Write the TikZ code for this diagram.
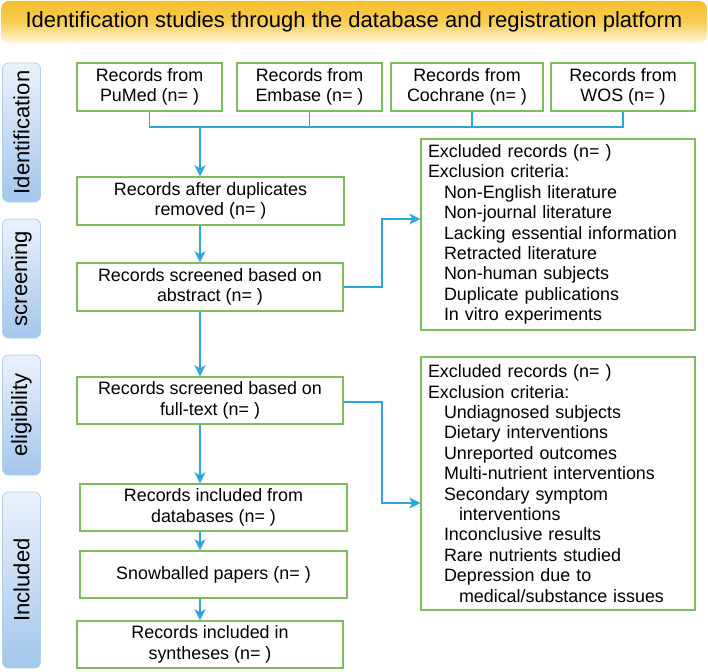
\documentclass[tikz,border=0pt]{standalone}
\usepackage{fontspec}
\setmainfont{Liberation Sans}
\usetikzlibrary{arrows.meta}
\definecolor{boxgreen}{HTML}{7BBE5A}
\definecolor{linkblue}{HTML}{2BA6DE}
\definecolor{sideL}{HTML}{EAF2FB}
\definecolor{sideR}{HTML}{A3C6EC}
\definecolor{sideB}{HTML}{B3CFEE}
\definecolor{banTop}{HTML}{F5BE2C}
\definecolor{banMid}{HTML}{F8CD55}
\definecolor{banBot}{HTML}{FFF6DC}
\begin{document}
\begin{tikzpicture}[x=1pt,y=-1pt,
  txt/.style={font=\fontsize{17.9}{20.5}\selectfont},
  flowbox/.style={txt,draw=boxgreen,line width=1.4pt,fill=white,align=center,inner sep=0pt,minimum height=48pt,minimum width=#1},
  exbox/.style={draw=boxgreen,line width=1.4pt,fill=white,align=left,inner xsep=7pt,inner ysep=0pt,text width=260pt,minimum height=#1,font=\fontsize{17.9}{20.4}\selectfont},
  sidelab/.style={rotate=90,draw=sideB,line width=0.8pt,rounded corners=6pt,top color=sideL,bottom color=sideR,minimum height=38pt,minimum width=#1,inner sep=0pt,font=\fontsize{22}{26}\selectfont},
  banner/.style={rounded corners=8pt,top color=banTop,bottom color=banBot,middle color=banMid,minimum width=706pt,minimum height=42pt,inner sep=0pt,font=\fontsize{22}{26}\selectfont},
  conn/.style={draw=linkblue,line width=1.2pt},
  arr/.style={conn,-{Stealth[length=11pt,width=11pt,inset=3pt]}},
]
\useasboundingbox (0,0) rectangle (708,671);

% banner
\node[banner] (title) at (354,22) {Identification studies through the database and registration platform};

% side labels
\node[sidelab=139pt] (sIdent) at (21.5,132.5) {Identification};
\node[sidelab=119pt] (sScreen) at (21.5,278.5) {screening};
\node[sidelab=120pt] (sElig) at (21.5,415) {eligibility};
\node[sidelab=176pt] (sIncl) at (21.5,580) {Included};

% top boxes
\node[flowbox=145pt] (pumed) at (149.5,87) {Records from\\PuMed (n= )};
\node[flowbox=145pt] (embase) at (309.5,87) {Records from\\Embase (n= )};
\node[flowbox=152pt] (cochrane) at (467,87) {Records from\\Cochrane (n= )};
\node[flowbox=144pt] (wos) at (623,87) {Records from\\WOS (n= )};

% main column
\node[flowbox=267pt] (dup) at (210.5,201) {Records after duplicates\\removed (n= )};
\node[flowbox=266pt] (abs) at (210,287) {Records screened based on\\abstract (n= )};
\node[flowbox=266pt,minimum height=47pt] (full) at (210,400.5) {Records screened based on\\full-text (n= )};
\node[flowbox=267pt,minimum height=47pt] (db) at (213.5,507.5) {Records included from\\databases (n= )};
\node[flowbox=267pt,minimum height=47pt] (snow) at (213.5,574.5) {Snowballed papers (n= )};
\node[flowbox=266pt,minimum height=47pt] (syn) at (210,644.5) {Records included in\\syntheses (n= )};

% exclusion boxes
\node[exbox=191pt] (ex1) at (558,234.5) {Excluded records (n= )\\
Exclusion criteria:\\
\hspace*{16pt}Non-English literature\\
\hspace*{16pt}Non-journal literature\\
\hspace*{16pt}Lacking essential information\\
\hspace*{16pt}Retracted literature\\
\hspace*{16pt}Non-human subjects\\
\hspace*{16pt}Duplicate publications\\
\hspace*{16pt}In vitro experiments};
\node[exbox=253pt] (ex2) at (558,483.5) {Excluded records (n= )\\
Exclusion criteria:\\
\hspace*{16pt}Undiagnosed subjects\\
\hspace*{16pt}Dietary interventions\\
\hspace*{16pt}Unreported outcomes\\
\hspace*{16pt}Multi-nutrient interventions\\
\hspace*{16pt}Secondary symptom\\
\hspace*{31pt}interventions\\
\hspace*{16pt}Inconclusive results\\
\hspace*{16pt}Rare nutrients studied\\
\hspace*{16pt}Depression due to\\
\hspace*{31pt}medical/substance issues};

% connectors
\coordinate (bus) at (200,127);
\coordinate (jx) at (382,0);
\draw[conn] (pumed.south) |- (wos.south |- bus) -- (wos.south);
\draw[conn] (embase.south) -- (embase.south |- bus);
\draw[conn] ([xshift=5pt]cochrane.south) -- ([xshift=5pt]cochrane.south |- bus);
\draw[arr] (bus) -- (bus |- dup.north);
\draw[arr] (bus |- dup.south) -- (bus |- abs.north);
\draw[arr] (bus |- abs.south) -- (bus |- full.north);
\draw[arr] (bus |- full.south) -- (bus |- db.north);
\draw[arr] (bus |- db.south) -- (bus |- snow.north);
\draw[arr] (bus |- snow.south) -- (bus |- syn.north);
\draw[arr] (abs.east) -- (abs.east -| jx) |- ([yshift=15.5pt]ex1.west);
\draw[arr] ([yshift=-1.5pt]full.east) -- ([yshift=-1.5pt]full.east -| jx) |- ([yshift=-19.5pt]ex2.west);
\end{tikzpicture}
\end{document}
